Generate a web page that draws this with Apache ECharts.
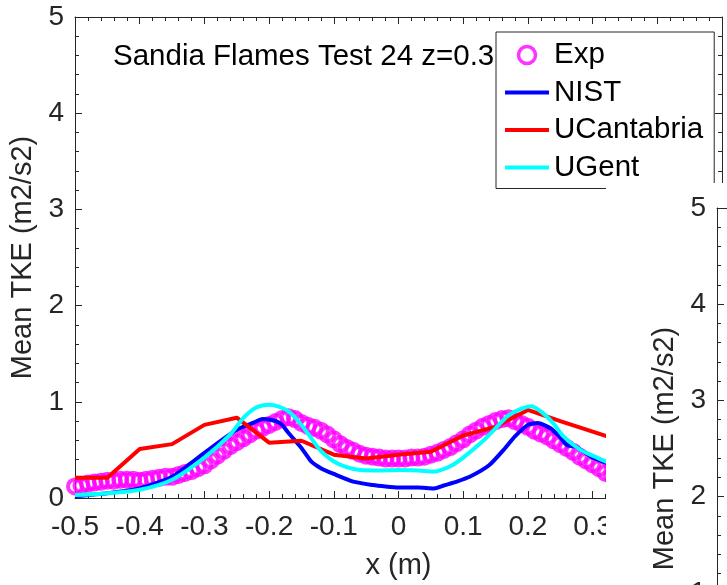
<!DOCTYPE html>
<html>
<head>
<meta charset="utf-8">
<script src="https://cdn.jsdelivr.net/npm/echarts@6/dist/echarts.min.js"></script>
<style>
html,body{margin:0;padding:0;background:#fff;}
#chart{width:727px;height:585px;}
</style>
</head>
<body>
<div id="chart"></div>
<script>
// ---- data ----
const titleText = 'Sandia Flames Test 24 z=0.3';
const seriesNames = ['Exp', 'NIST', 'UCantabria', 'UGent'];
const xTicks = [-0.5, -0.4, -0.3, -0.2, -0.1, 0, 0.1, 0.2, 0.3, 0.4, 0.5];

const expX = [-0.50,-0.49,-0.48,-0.47,-0.46,-0.45,-0.44,-0.43,-0.42,-0.41,-0.40,-0.39,-0.38,-0.37,-0.36,-0.35,-0.34,-0.33,-0.32,-0.31,
  -0.30,-0.29,-0.28,-0.27,-0.26,-0.25,-0.24,-0.23,-0.22,-0.21,-0.20,-0.19,-0.18,-0.17,-0.16,-0.15,-0.14,-0.13,-0.12,-0.11,
  -0.10,-0.09,-0.08,-0.07,-0.06,-0.05,-0.04,-0.03,-0.02,-0.01,0.00,0.01,0.02,0.03,0.04,0.05,0.06,0.07,0.08,0.09,
  0.10,0.11,0.12,0.13,0.14,0.15,0.16,0.17,0.18,0.19,0.20,0.21,0.22,0.23,0.24,0.25,0.26,0.27,0.28,0.29,0.30,0.31,0.32,0.33,0.34];
const expY = [0.12,0.13,0.15,0.16,0.17,0.18,0.18,0.19,0.19,0.19,0.18,0.19,0.20,0.21,0.22,0.22,0.24,0.26,0.28,0.31,
  0.34,0.39,0.44,0.49,0.54,0.58,0.62,0.66,0.70,0.73,0.76,0.79,0.82,0.84,0.82,0.78,0.75,0.73,0.70,0.66,
  0.61,0.56,0.52,0.49,0.46,0.44,0.43,0.42,0.41,0.41,0.41,0.41,0.42,0.42,0.43,0.45,0.47,0.50,0.53,0.57,
  0.61,0.66,0.70,0.74,0.77,0.80,0.82,0.83,0.80,0.77,0.74,0.70,0.67,0.64,0.60,0.56,0.52,0.48,0.43,0.39,0.35,0.31,0.26,0.23,0.20];

const nistX = [-0.50,-0.45,-0.40,-0.35,-0.30,-0.25,-0.225,-0.21,-0.19,-0.18,-0.17,-0.15,-0.135,-0.12,-0.10,-0.07,-0.04,-0.02,0.00,0.03,
  0.055,0.07,0.09,0.11,0.14,0.165,0.18,0.20,0.215,0.235,0.25,0.26,0.275,0.30,0.32,0.34];
const nistY = [0.02,0.05,0.10,0.22,0.47,0.71,0.78,0.82,0.80,0.76,0.675,0.52,0.38,0.31,0.25,0.17,0.135,0.12,0.11,0.11,
  0.10,0.13,0.17,0.22,0.34,0.52,0.64,0.76,0.78,0.725,0.63,0.55,0.53,0.42,0.37,0.32];

const ucX = [-0.50,-0.45,-0.40,-0.35,-0.30,-0.25,-0.20,-0.15,-0.10,-0.05,0.00,0.05,0.10,0.15,0.20,0.25,0.30,0.35];
const ucY = [0.21,0.21,0.51,0.56,0.76,0.835,0.575,0.595,0.45,0.41,0.45,0.48,0.65,0.74,0.915,0.80,0.69,0.58];

const ugX = [-0.50,-0.45,-0.40,-0.35,-0.30,-0.26,-0.24,-0.22,-0.20,-0.185,-0.17,-0.155,-0.14,-0.12,-0.10,-0.08,-0.06,-0.03,0.00,0.03,
  0.055,0.08,0.10,0.13,0.155,0.17,0.19,0.205,0.22,0.24,0.255,0.28,0.30,0.32,0.34];
const ugY = [0.03,0.05,0.085,0.19,0.42,0.66,0.83,0.94,0.97,0.95,0.90,0.80,0.67,0.49,0.38,0.32,0.29,0.285,0.29,0.285,
  0.275,0.33,0.42,0.59,0.76,0.86,0.93,0.955,0.90,0.77,0.64,0.505,0.44,0.38,0.33];

// ---- helpers ----
const zip = (xs, ys) => xs.map((x, i) => [x, ys[i]]);
const FONT = '"Liberation Sans", Arial, Helvetica, sans-serif';
const AX = '#262626';

const chart = echarts.init(document.getElementById('chart'), null, {renderer: 'canvas'});

function valueAxisX(extra) {
  return Object.assign({
    type: 'value', min: xTicks[0], max: xTicks[xTicks.length - 1], interval: 0.1,
    axisLine: {show: true, onZero: false, lineStyle: {color: AX, width: 1}},
    axisTick: {show: true, inside: true, length: 7, lineStyle: {color: AX}},
    minorTick: {show: true, splitNumber: 5, length: 4, lineStyle: {color: AX}},
    splitLine: {show: false},
    axisLabel: {show: true, color: AX, fontSize: 28, fontFamily: FONT, margin: 15}
  }, extra);
}
function valueAxisY(extra) {
  return Object.assign({
    type: 'value', min: 0, max: 5, interval: 1,
    axisLine: {show: true, onZero: false, lineStyle: {color: AX, width: 1}},
    axisTick: {show: true, inside: true, length: 7, lineStyle: {color: AX}},
    minorTick: {show: true, splitNumber: 5, length: 4, lineStyle: {color: AX}},
    splitLine: {show: false},
    axisLabel: {show: true, color: AX, fontSize: 28, fontFamily: FONT, margin: 11}
  }, extra);
}

const hideSym = {color: 'rgba(0,0,0,0)', borderWidth: 0, opacity: 0};

const option = {
  backgroundColor: '#fff',
  animation: false,
  title: {
    text: titleText, left: 108, top: 37, z: 6,
    textStyle: {fontSize: 29.5, fontWeight: 'normal', color: '#000', fontFamily: FONT}
  },
  legend: {
    data: [
      {name: seriesNames[0], itemStyle: {color: 'rgba(255,255,255,0)', borderColor: '#ff00ff', borderWidth: 3.5}},
      {name: seriesNames[1], itemStyle: hideSym, lineStyle: {width: 4}},
      {name: seriesNames[2], itemStyle: hideSym, lineStyle: {width: 4}},
      {name: seriesNames[3], itemStyle: hideSym, lineStyle: {width: 4}}
    ],
    orient: 'vertical', left: 496, top: 32,
    padding: [8, 11, 6, 7], itemGap: 7.5, itemWidth: 44, itemHeight: 17,
    backgroundColor: '#fff', borderColor: AX, borderWidth: 1, borderRadius: 0,
    textStyle: {fontSize: 29.5, color: '#000', fontFamily: FONT},
    z: 10
  },
  grid: [
    {left: 75, top: 17, width: 647, height: 481, containLabel: false, outerBoundsMode: 'none'},
    {left: 717, top: 208, width: 647, height: 481, containLabel: false, outerBoundsMode: 'none', z: 100}
  ],
  xAxis: [
    valueAxisX({gridIndex: 0, position: 'bottom', name: 'x (m)', nameLocation: 'middle', nameGap: 53,
      nameTextStyle: {fontSize: 29, color: AX, fontFamily: FONT}}),
    valueAxisX({gridIndex: 0, position: 'top', axisLabel: {show: false}}),
    valueAxisX({gridIndex: 1, position: 'top', axisLabel: {show: false}, z: 100})
  ],
  yAxis: [
    valueAxisY({gridIndex: 0, position: 'left', name: 'Mean TKE (m2/s2)', nameLocation: 'middle', nameGap: 33,
      nameTextStyle: {fontSize: 29, color: AX, fontFamily: FONT}}),
    valueAxisY({gridIndex: 0, position: 'right', axisLabel: {show: false}}),
    valueAxisY({gridIndex: 1, position: 'left', name: 'Mean TKE (m2/s2)', nameLocation: 'middle', nameGap: 36,
      nameTextStyle: {fontSize: 29, color: AX, fontFamily: FONT}, z: 100})
  ],
  graphic: [
    {type: 'rect', shape: {x: 606, y: 183, width: 130, height: 410}, style: {fill: '#fff'}, z: 60, silent: true}
  ],
  series: [
    {
      name: 'Exp', type: 'scatter', xAxisIndex: 0, yAxisIndex: 0,
      symbol: 'circle', symbolSize: 14,
      itemStyle: {color: 'rgba(255,255,255,0)', borderColor: '#ff00ff', borderWidth: 4},
      data: zip(expX, expY)
    },
    {
      name: 'NIST', type: 'line', xAxisIndex: 0, yAxisIndex: 0,
      symbol: 'none', showSymbol: false, smooth: 0.2,
      lineStyle: {color: '#0000ff', width: 4, join: 'round'}, itemStyle: {color: '#0000ff'},
      data: zip(nistX, nistY)
    },
    {
      name: 'UCantabria', type: 'line', xAxisIndex: 0, yAxisIndex: 0,
      symbol: 'none', showSymbol: false,
      lineStyle: {color: '#ff0000', width: 4, join: 'round'}, itemStyle: {color: '#ff0000'},
      data: zip(ucX, ucY)
    },
    {
      name: 'UGent', type: 'line', xAxisIndex: 0, yAxisIndex: 0,
      symbol: 'none', showSymbol: false, smooth: 0.3,
      lineStyle: {color: '#00ffff', width: 4, join: 'round'}, itemStyle: {color: '#00ffff'},
      data: zip(ugX, ugY)
    }
  ]
};
chart.setOption(option);
</script>
</body>
</html>
